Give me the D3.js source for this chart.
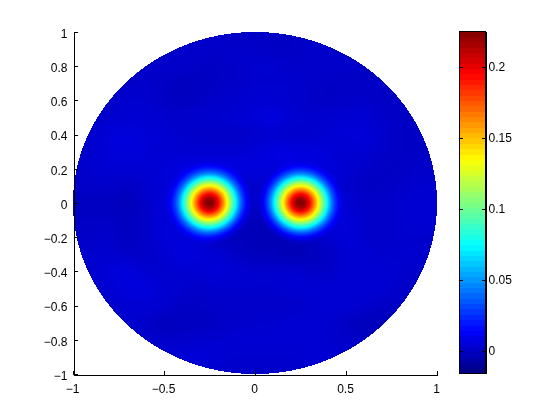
<!DOCTYPE html>
<html>
<head>
<meta charset="utf-8">
<script src="https://cdn.jsdelivr.net/npm/d3@7"></script>
<style>
html,body{margin:0;padding:0;background:#fff;width:560px;height:420px;overflow:hidden}
canvas,svg{position:absolute;left:0;top:0}
text{font-family:"Liberation Sans",Arial,sans-serif;font-size:12px;fill:#000}
</style>
</head>
<body>
<canvas id="field" width="560" height="420"></canvas>
<svg id="chart" width="560" height="420"></svg>
<script>
// Tick labels
const xTicks = [-1, -0.5, 0, 0.5, 1];
const yTicks = [-1, -0.8, -0.6, -0.4, -0.2, 0, 0.2, 0.4, 0.6, 0.8, 1];
const barTicks = [0, 0.05, 0.1, 0.15, 0.2];
const colorDomain = [-0.0155, 0.225];

// Peak positions
const peakX = [-0.25, 0.25];
const peakY = [0, 0];

// Peak height above background, read every 0.0125 of radius out from a peak centre
const peakProfile = [0.225, 0.224, 0.218, 0.208, 0.195, 0.180, 0.164, 0.147, 0.131, 0.114, 0.098, 0.082, 0.066, 0.050, 0.036, 0.025, 0.016, 0.009, 0.004, 0.001, 0.000];
const profileStep = 0.0125;

// Background level (x 1000) on a 0.1 grid: rows y = 1 .. -1, columns x = -1 .. 1
const background = [
[2,2,2,2,2,2,2,2,2,1,1,1,1,1,2,2,2,2,2,2,2],
[2,2,2,2,2,2,2,2,2,2,2,1,1,2,2,2,2,2,2,2,2],
[2,2,2,2,2,2,2,1,1,2,3,3,2,2,2,2,1,1,2,2,2],
[2,2,2,2,2,1,0,0,1,2,3,3,3,2,1,1,1,1,1,2,2],
[2,2,2,3,3,1,0,1,2,3,4,4,3,2,1,2,2,1,1,1,2],
[2,2,3,4,4,3,2,3,3,4,5,6,4,3,3,4,4,2,1,1,1],
[2,3,5,6,5,4,3,2,2,2,3,4,3,3,4,5,5,3,1,1,1],
[2,3,5,6,5,4,4,4,4,4,5,7,7,6,5,4,4,2,1,1,1],
[2,3,4,4,4,5,7,8,8,7,6,6,7,7,6,4,2,1,1,2,2],
[1,2,2,1,3,5,6,6,6,4,2,3,4,5,5,3,1,1,2,3,3],
[0,0,0,-1,2,5,5,2,0,0,1,0,0,1,4,4,2,2,3,4,4],
[1,1,1,0,2,5,5,2,-1,-2,-1,-2,-1,1,4,5,3,2,3,4,4],
[1,2,2,0,2,5,6,4,0,-1,-2,-2,-2,0,3,5,3,2,3,3,3],
[2,3,3,2,2,4,6,5,4,1,-1,-1,-2,-1,1,4,4,3,3,3,2],
[2,3,5,6,4,3,4,4,5,4,3,3,3,2,2,4,4,4,3,2,2],
[2,3,4,6,6,4,3,2,3,3,3,3,4,4,4,4,4,4,2,1,1],
[2,2,2,4,4,3,1,1,2,2,2,2,2,3,4,4,3,1,1,1,1],
[2,2,2,3,2,0,0,0,1,2,3,3,4,4,3,1,-1,-1,1,1,1],
[2,2,2,2,3,2,2,3,3,4,4,4,4,4,3,2,1,1,1,1,1],
[2,2,2,2,3,4,5,5,4,3,3,3,3,4,4,3,2,2,2,2,2],
[2,2,2,2,2,3,3,3,2,2,2,2,2,2,3,3,2,2,2,2,2]
];

// Layout
const x = d3.scaleLinear().domain([-1, 1]).range([73, 437]);
const y = d3.scaleLinear().domain([-1, 1]).range([374, 32]);
const barY = d3.scaleLinear().domain(colorDomain).range([373, 31]);
const barLeft = 459, barRight = 485;

// Jet colormap: 64 bands in the colorbar, smooth shading in the field
const jet = d3.scaleLinear()
  .domain([0, 0.125, 0.375, 0.625, 0.875, 1])
  .range(["#000080", "#0000ff", "#00ffff", "#ffff00", "#ff0000", "#800000"])
  .interpolate(d3.interpolateRgb)
  .clamp(true);
const levels = d3.range(64).map(i => jet((i + 0.5) / 64));
const color = d3.scaleLinear().domain(colorDomain).range([0, 1]).clamp(true);

function cubic(a, b, c, d, t) {
  return b + 0.5 * t * (c - a + t * (2 * a - 5 * b + 4 * c - d + t * (3 * (b - c) + d - a)));
}
function backgroundAt(px, py) {
  const fx = Math.max(0, Math.min(19.999, (px + 1) / 0.1));
  const fy = Math.max(0, Math.min(19.999, (1 - py) / 0.1));
  const ix = Math.floor(fx), iy = Math.floor(fy);
  const row = r => {
    const R = background[Math.max(0, Math.min(20, r))];
    const c = k => R[Math.max(0, Math.min(20, k))];
    return cubic(c(ix - 1), c(ix), c(ix + 1), c(ix + 2), fx - ix);
  };
  return cubic(row(iy - 1), row(iy), row(iy + 1), row(iy + 2), fy - iy) / 1000;
}
const profileAt = d3.scaleLinear()
  .domain(peakProfile.map((_, i) => i * profileStep))
  .range(peakProfile)
  .clamp(true);
function valueAt(px, py) {
  let v = backgroundAt(px, py);
  peakX.forEach((cx, i) => { v += profileAt(Math.hypot(px - cx, py - peakY[i])); });
  return v;
}

// Draw the field
const ctx = document.getElementById("field").getContext("2d");
for (let py = 32; py < 374; py++) {
  for (let px = 73; px < 437; px++) {
    const dx = x.invert(px + 0.5), dy = y.invert(py + 0.5);
    if (dx * dx + dy * dy > 1) continue;
    ctx.fillStyle = jet(color(valueAt(dx, dy)));
    ctx.fillRect(px, py, 1, 1);
  }
}

const svg = d3.select("#chart");
const fontFamily = '"Liberation Sans",Arial,sans-serif';

// Axes
const xAxis = d3.axisBottom(x).tickValues(xTicks).tickFormat(d3.format("~g")).tickSizeInner(-4).tickSizeOuter(0).tickPadding(10);
const yAxis = d3.axisLeft(y).tickValues(yTicks).tickFormat(d3.format("~g")).tickSizeInner(-4).tickSizeOuter(0).tickPadding(6);
const gx = svg.append("g").attr("transform", "translate(0,374.5)").call(xAxis);
const gy = svg.append("g").attr("transform", "translate(73.5,0)").call(yAxis);
[gx, gy].forEach(g => {
  g.selectAll("line,path").attr("stroke", "#000").attr("stroke-width", 1).attr("shape-rendering", "crispEdges");
  g.selectAll("text").attr("fill", "#000").style("font-family", fontFamily).style("font-size", "12px");
});
gy.selectAll("text").attr("y", 1.5);
gx.selectAll("text").attr("x", -1);

// Colorbar
const barG = svg.append("g");
barG.selectAll("rect").data(levels).join("rect")
  .attr("x", barLeft)
  .attr("width", barRight - barLeft)
  .attr("y", (d, i) => barY(colorDomain[0] + (i + 1) * (colorDomain[1] - colorDomain[0]) / 64))
  .attr("height", (barY.range()[0] - barY.range()[1]) / 64 + 0.6)
  .attr("fill", d => d)
  .attr("shape-rendering", "crispEdges");
const barAxis = d3.axisRight(barY).tickValues(barTicks).tickFormat(d3.format("~g")).tickSizeInner(-4).tickSizeOuter(0).tickPadding(3);
const gb = svg.append("g").attr("transform", `translate(${barRight + 0.5},0)`).call(barAxis);
gb.selectAll("line,path").attr("stroke", "#000").attr("shape-rendering", "crispEdges");
gb.selectAll("text").attr("fill", "#000").style("font-family", fontFamily).style("font-size", "12px");
svg.append("g").selectAll("line").data(barTicks).join("line")
  .attr("x1", barLeft).attr("x2", barLeft + 4)
  .attr("y1", d => barY(d) + 0.5).attr("y2", d => barY(d) + 0.5)
  .attr("stroke", "#000").attr("shape-rendering", "crispEdges");
svg.append("rect")
  .attr("x", barLeft + 0.5).attr("y", barY.range()[1] + 0.5)
  .attr("width", barRight - barLeft).attr("height", barY.range()[0] - barY.range()[1])
  .attr("fill", "none").attr("stroke", "#000").attr("shape-rendering", "crispEdges");
</script>
</body>
</html>
